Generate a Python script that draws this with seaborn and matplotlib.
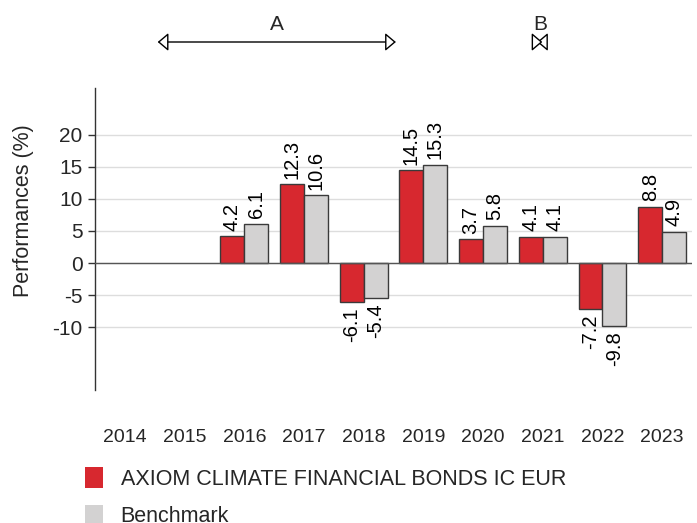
import matplotlib
matplotlib.use("Agg")
import matplotlib.pyplot as plt
import matplotlib.transforms as mtransforms
from matplotlib.patches import Patch
import numpy as np
import pandas as pd
import seaborn as sns

years = ["2014", "2015", "2016", "2017", "2018", "2019", "2020", "2021", "2022", "2023"]
fund_values = [np.nan, np.nan, 4.2, 12.3, -6.1, 14.5, 3.7, 4.1, -7.2, 8.8]
bench_values = [np.nan, np.nan, 6.1, 10.6, -5.4, 15.3, 5.8, 4.1, -9.8, 4.9]
series_names = ["AXIOM CLIMATE FINANCIAL BONDS IC EUR", "Benchmark"]
y_ticks = [-10, -5, 0, 5, 10, 15, 20]

sns.set_theme(style="white")
plt.rcParams["font.family"] = ["Liberation Sans", "DejaVu Sans"]

df = pd.DataFrame({
    "year": years * 2,
    "value": fund_values + bench_values,
    "series": [series_names[0]] * len(years) + [series_names[1]] * len(years),
})

red = "#D7282F"
gray = "#D3D2D2"
edge = "#3a3a3a"

fig = plt.figure(figsize=(6.97, 5.23), dpi=100)
ax = fig.add_axes([95 / 697, 1 - 390 / 523, (692 - 95) / 697, (390 - 88) / 523])

sns.barplot(data=df, x="year", y="value", hue="series", order=years,
            hue_order=series_names, palette=[red, gray], errorbar=None,
            edgecolor=edge, linewidth=1, width=0.8, saturation=1, ax=ax,
            legend=False, zorder=3)

for cont in ax.containers:
    ax.bar_label(cont, fmt="%.1f", rotation=90, padding=4, fontsize=14.5, color="black")

ax.set_xlim(-0.5, 9.5)
ax.set_ylim(-19.8, 27.3)
ax.set_yticks(y_ticks)
ax.set_yticklabels([str(t) for t in y_ticks])
ax.tick_params(axis="y", which="both", left=True, length=5, width=1, color="#333333",
               labelsize=15, pad=4)
ax.tick_params(axis="x", length=0, labelsize=14, pad=28)
ax.set_xlabel("")
ax.set_ylabel("Performances (%)", fontsize=15.5)
ax.yaxis.set_label_coords(-0.103, 0.595)
ax.grid(axis="y", color="#DDDDDD", linewidth=1, zorder=0)
ax.grid(axis="x", visible=False)
ax.axhline(0, color="#555555", linewidth=1, zorder=4)
for s in ["top", "right", "bottom"]:
    ax.spines[s].set_visible(False)
ax.spines["left"].set_color("#333333")
ax.spines["left"].set_linewidth(1)

# Period annotations above the plot
trans = mtransforms.blended_transform_factory(ax.transData, fig.transFigure)
arrow_y = 1 - 42 / 523
text_y = 1 - 24 / 523
arrow_props = dict(arrowstyle="<|-|>,head_length=0.65,head_width=0.55", fc="white",
                   ec="black", lw=1, shrinkA=0, shrinkB=0, mutation_scale=10)
ax.annotate("", xy=(4.54, arrow_y), xytext=(0.55, arrow_y), xycoords=trans, textcoords=trans,
            arrowprops=arrow_props, annotation_clip=False)
ax.text(2.55, text_y, "A", transform=trans, ha="center", va="center", fontsize=15)
ax.text(6.95, text_y, "B", transform=trans, ha="center", va="center", fontsize=15)
ax.annotate("", xy=(6.995, arrow_y), xytext=(6.905, arrow_y), xycoords=trans, textcoords=trans,
            arrowprops=arrow_props, annotation_clip=False)

handles = [Patch(facecolor=red, edgecolor="none"), Patch(facecolor=gray, edgecolor="none")]
fig.legend(handles, series_names, loc="upper left", bbox_to_anchor=(85 / 697, 1 - 467 / 523),
           frameon=False, fontsize=15.5, handlelength=0.85, handleheight=1.1,
           handletextpad=0.8, labelspacing=0.7, borderaxespad=0, borderpad=0)

fig.savefig("out.png", dpi=100)
